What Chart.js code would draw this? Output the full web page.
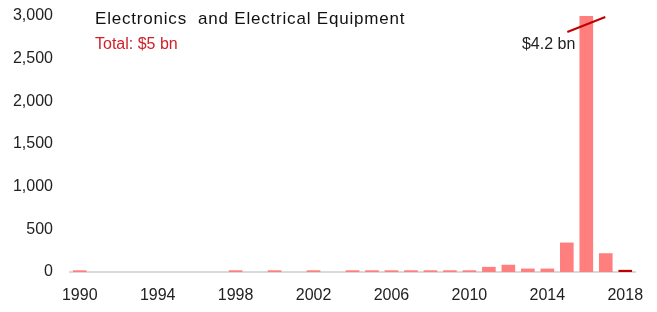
<!DOCTYPE html>
<html>
<head>
<meta charset="utf-8">
<script src="https://cdn.jsdelivr.net/npm/chart.js@4"></script>
<style>
  html, body { margin: 0; padding: 0; background: #fff; }
  #wrap { width: 657px; height: 312px; position: relative; }
</style>
</head>
<body>
<div id="wrap"><canvas id="dealsChart"></canvas></div>
<script>
'use strict';

// years on the category axis
var years = [];
for (var y = 1990; y <= 2018; y++) { years.push(String(y)); }

// deal value, $ mn (2016 is capped at the axis max, real value $4.2 bn)
var dealValues = [20, 0, 0, 0, 0, 0, 0, 0, 20, 0, 20, 0, 20, 0, 20, 20, 20, 20, 20, 20, 20, 60, 85, 40, 40, 345, 3000, 220, 25];
var yTicks = [0, 500, 1000, 1500, 2000, 2500, 3000];
var xTickYears = ['1990', '1994', '1998', '2002', '2006', '2010', '2014', '2018'];

var chartTitle = 'Electronics  and Electrical Equipment';
var chartSubtitle = 'Total: $5 bn';
var cappedLabel = '$4.2 bn';
var cappedYear = '2016';

var barColors = years.map(function(yr) {
    return yr === '2018' ? '#c00000' : '#ff7f7f';
});

var narrow = '"Liberation Sans Narrow", "Arial Narrow", "Liberation Sans", sans-serif';

var annotations = {
    id: 'annotations',
    afterDraw: function(chart) {
        var ctx = chart.ctx;
        var xs = chart.scales.x, ys = chart.scales.y;
        ctx.save();

        // title
        ctx.fillStyle = '#111';
        ctx.font = '500 17px "Liberation Sans", Arial, sans-serif';
        ctx.letterSpacing = '0.8px';
        ctx.textBaseline = 'middle';
        ctx.textAlign = 'left';
        ctx.fillText(chartTitle, 95, 19);
        ctx.letterSpacing = '0px';

        // subtitle
        ctx.fillStyle = '#d0202a';
        ctx.font = '16px ' + narrow;
        ctx.fillText(chartSubtitle, 95, 45);

        // break marker on the capped bar
        var cx = xs.getPixelForValue(years.indexOf(cappedYear));
        var top = ys.getPixelForValue(3000);
        ctx.strokeStyle = '#c00000';
        ctx.lineWidth = 2;
        ctx.beginPath();
        ctx.moveTo(cx - 19, top + 16);
        ctx.lineTo(cx + 19, top + 1);
        ctx.stroke();

        ctx.fillStyle = '#222';
        ctx.textAlign = 'right';
        ctx.fillText(cappedLabel, cx - 11, top + 29);
        ctx.restore();
    }
};

var ctx = document.getElementById('dealsChart').getContext('2d');
new Chart(ctx, {
    type: 'bar',
    data: {
        labels: years,
        datasets: [{
            data: dealValues,
            backgroundColor: barColors,
            borderWidth: 0,
            barPercentage: 0.7,
            categoryPercentage: 1.0
        }]
    },
    options: {
        responsive: true,
        maintainAspectRatio: false,
        animation: false,
        layout: { padding: { top: 16, right: 22, left: 0, bottom: 0 } },
        plugins: {
            legend: { display: false },
            tooltip: { enabled: false }
        },
        scales: {
            x: {
                afterFit: function(axis) {
                    axis.height = 40;
                    axis.paddingLeft = 0;
                    axis.paddingRight = 0;
                },
                grid: { display: false, drawTicks: false },
                border: { display: true, color: '#d9d9d9', width: 2 },
                ticks: {
                    autoSkip: false,
                    maxRotation: 0,
                    padding: 14,
                    color: '#222',
                    font: { family: narrow, size: 16 },
                    callback: function(val) {
                        var lbl = years[val];
                        return xTickYears.indexOf(lbl) >= 0 ? lbl : '';
                    }
                }
            },
            y: {
                min: 0,
                max: 3000,
                afterBuildTicks: function(axis) {
                    axis.ticks = yTicks.map(function(v) { return { value: v }; });
                },
                afterFit: function(axis) {
                    axis.width = 70;
                    axis.paddingTop = 0;
                    axis.paddingBottom = 0;
                },
                grid: { display: false, drawTicks: false },
                border: { display: false },
                ticks: {
                    padding: 17,
                    color: '#222',
                    font: { family: narrow, size: 16 },
                    callback: function(v) { return v.toLocaleString('en-US'); }
                }
            }
        }
    },
    plugins: [annotations]
});
</script>
</body>
</html>
